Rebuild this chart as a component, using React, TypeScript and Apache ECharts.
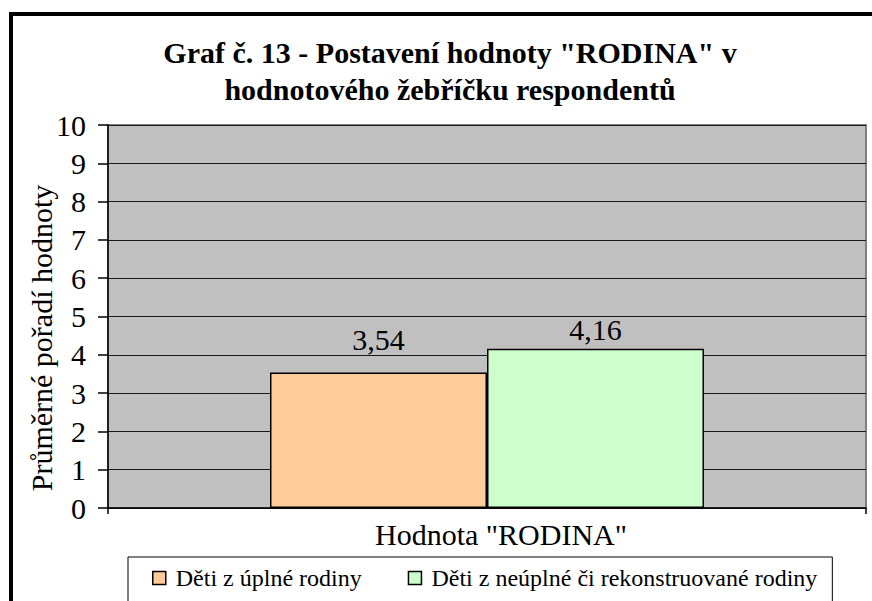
import React, { useEffect, useRef } from "react";
import * as echarts from "echarts";

const categories = ['Hodnota "RODINA"'];
const seriesNames = ["Děti z úplné rodiny", "Děti z neúplné či rekonstruované rodiny"];
const seriesValues = [[3.54], [4.16]];
const seriesColors = ["#FFCC99", "#CCFFCC"];
const yTicks = { min: 0, max: 10, interval: 1 };
const titleText = 'Graf č. 13 - Postavení hodnoty "RODINA" v\nhodnotového žebříčku respondentů';
const yAxisTitle = "Průměrné pořadí hodnoty";

const SERIF = "Liberation Serif";

export default function App() {
  const ref = useRef<HTMLDivElement>(null);
  useEffect(() => {
    if (!ref.current) return;
    const chart = echarts.init(ref.current, undefined, { renderer: "svg" });
    const labelDistances = [18, 4];
    chart.setOption({
      animation: false,
      backgroundColor: "#ffffff",
      title: {
        text: titleText,
        left: 450,
        top: 34,
        padding: 0,
        textAlign: "center",
        textStyle: {
          fontFamily: SERIF,
          fontWeight: "bold",
          fontSize: 30,
          lineHeight: 37,
          color: "#000",
        },
      },
      grid: {
        left: 108,
        top: 125,
        right: 6,
        bottom: 93,
        show: true,
        backgroundColor: "#C0C0C0",
        borderColor: "#808080",
        borderWidth: 2,
      },
      xAxis: {
        type: "category",
        data: categories,
        boundaryGap: true,
        axisLine: { lineStyle: { color: "#000", width: 1.5 } },
        axisTick: { show: true, length: 6, lineStyle: { color: "#000", width: 1.5 } },
        axisLabel: {
          color: "#000",
          fontFamily: SERIF,
          fontSize: 30,
          margin: 11,
          padding: [0, 0, 0, 28],
        },
        splitLine: { show: false },
      },
      yAxis: {
        type: "value",
        min: yTicks.min,
        max: yTicks.max,
        interval: yTicks.interval,
        axisLine: { show: true, lineStyle: { color: "#000", width: 1.5 } },
        axisTick: { show: true, length: 10, lineStyle: { color: "#000", width: 1.5 } },
        axisLabel: {
          color: "#000",
          fontFamily: SERIF,
          fontSize: 30,
          margin: 22,
        },
        splitLine: { show: true, lineStyle: { color: "#1a1a1a", width: 1.2 } },
      },
      legend: {
        data: seriesNames,
        left: 128,
        top: 557,
        padding: [9, 15, 30, 24],
        itemWidth: 13,
        itemHeight: 13,
        itemGap: 46,
        icon: "rect",
        selectedMode: false,
        backgroundColor: "#fff",
        borderColor: "#000",
        borderWidth: 1,
        textStyle: {
          color: "#000",
          fontFamily: SERIF,
          fontSize: 24,
          padding: [0, 0, 0, 5],
        },
        itemStyle: { borderColor: "#000", borderWidth: 1.5 },
      },
      series: seriesNames.map((name, i) => ({
        name,
        type: "bar",
        data: seriesValues[i],
        barWidth: 217,
        barGap: "0%",
        itemStyle: { color: seriesColors[i], borderColor: "#000", borderWidth: 1.5 },
        label: {
          show: true,
          position: "top",
          distance: labelDistances[i],
          color: "#000",
          fontFamily: SERIF,
          fontSize: 30,
          formatter: (p: any) => p.value.toFixed(2).replace(".", ","),
        },
      })),
      graphic: [
        {
          type: "text",
          x: 41,
          y: 338,
          rotation: Math.PI / 2,
          style: {
            text: yAxisTitle,
            font: `30px ${SERIF}`,
            fill: "#000",
            align: "center",
            verticalAlign: "middle",
          },
        },
        {
          type: "rect",
          shape: { x: 11, y: 14, width: 1000, height: 1000 },
          style: { fill: "none", stroke: "#000", lineWidth: 4 },
          silent: true,
          z: 100,
        },
      ],
    });
    return () => chart.dispose();
  }, []);
  return (
    <div
      ref={ref}
      style={{ position: "fixed", left: 0, top: 0, width: 872, height: 601 }}
    />
  );
}
